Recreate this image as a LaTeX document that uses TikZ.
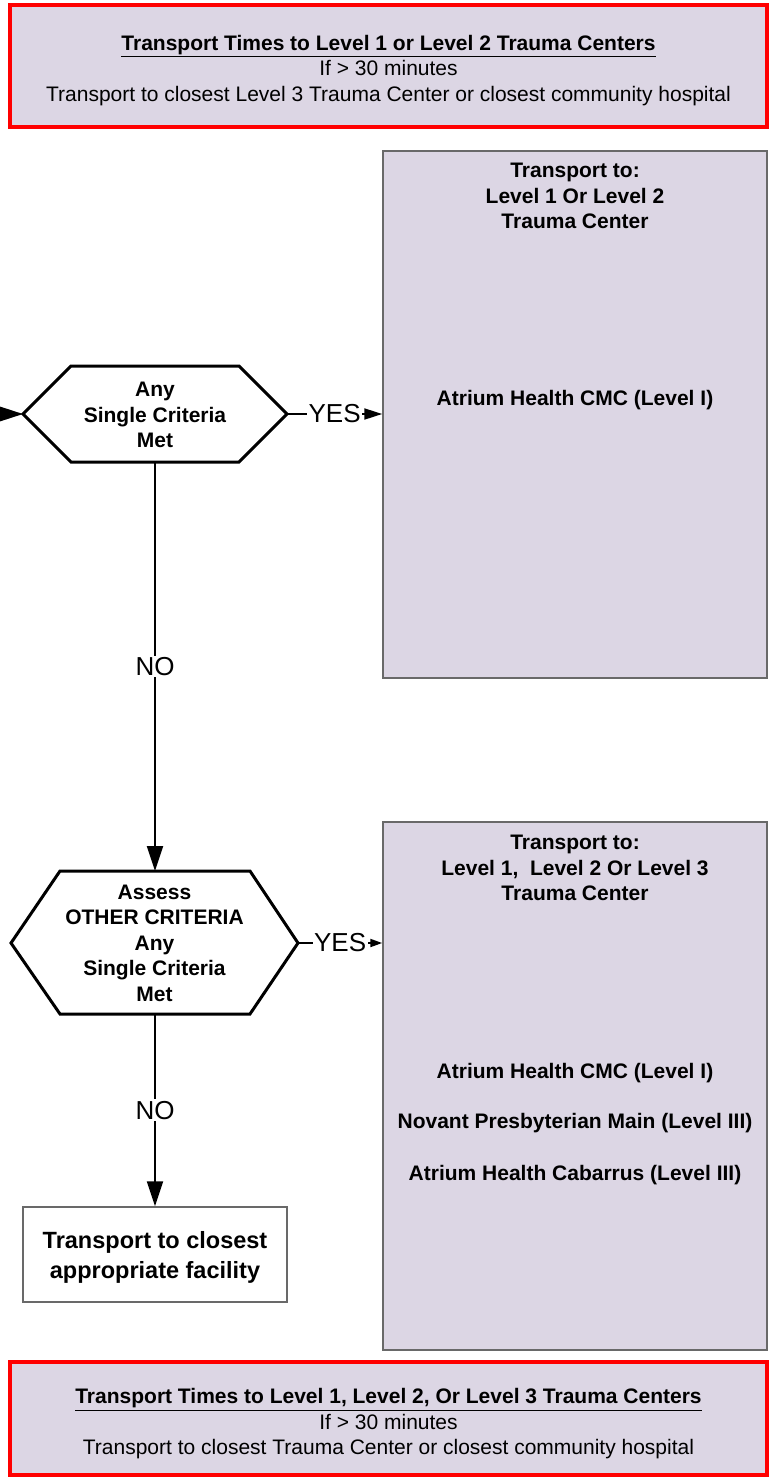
\documentclass[tikz,border=0pt]{standalone}
\usepackage{fontspec}
\setmainfont{Liberation Sans}
\usetikzlibrary{arrows.meta}
\definecolor{boxlilac}{RGB}{220,214,228}
\definecolor{boxgrey}{RGB}{105,105,105}

\begin{document}
\begin{tikzpicture}[x=1pt,y=-1pt,
  redbox/.style={draw=red, line width=3.5pt, fill=boxlilac},
  redtxt/.style={align=center, font=\fontsize{21}{25.5}\selectfont},
  destbox/.style={draw=boxgrey, line width=1.5pt, fill=boxlilac},
  hexline/.style={line width=3pt, line join=miter},
  boldtxt/.style={font=\fontsize{21}{25.5}\selectfont\bfseries, align=center},
  conn/.style={line width=2pt, -{Triangle[length=25pt,width=16pt]}},
  lbl/.style={fill=white, inner sep=1.5pt, font=\fontsize{26}{30}\selectfont}]
\useasboundingbox (0,0) rectangle (769,1480);

%%Time limits, top and bottom
\node[redbox, minimum width=757, minimum height=122] (toptimes) at (388.5,66) {};
\node[redtxt] (toptext) at (388.5,70.5)
  {\underline{\textbf{Transport Times to Level 1 or Level 2 Trauma Centers}}\\If > 30 minutes\\Transport to closest Level 3 Trauma Center or closest community hospital};
\node[redbox, minimum width=757, minimum height=113] (bottimes) at (388.5,1418.5) {};
\node[redtxt] (bottext) at (388.5,1424)
  {\underline{\textbf{Transport Times to Level 1, Level 2, Or Level 3 Trauma Centers}}\\If > 30 minutes\\Transport to closest Trauma Center or closest community hospital};

%%Destinations
\node[destbox, minimum width=384, minimum height=527] (dest1) at (575,414.5) {};
\node[boldtxt] (dest1head) at (575,196) {Transport to:\\Level 1 Or Level 2\\Trauma Center};
\node[boldtxt] (dest1cmc) at (575,400) {Atrium Health CMC (Level I)};

\node[destbox, minimum width=384, minimum height=528] (dest2) at (575,1086) {};
\node[boldtxt] (dest2head) at (575,868) {Transport to:\\Level 1,\ \ Level 2 Or Level 3\\Trauma Center};
\node[boldtxt] (dest2cmc) at (575,1073) {Atrium Health CMC (Level I)};
\node[boldtxt] (dest2novant) at (575,1123) {Novant Presbyterian Main (Level III)};
\node[boldtxt] (dest2cabarrus) at (575,1175) {Atrium Health Cabarrus (Level III)};

%%First hexagon
\coordinate (anyW) at (23,414);
\coordinate (anyE) at (287,414);
\coordinate (anyS) at (155,462);
\draw[hexline, fill=white] (anyW) -- (71,366) -- (239,366) -- (anyE) -- (239,462) -- (71,462) -- cycle;
\node[boldtxt] (anycrit) at (155,415) {Any\\Single Criteria\\Met};

%%Second hexagon
\coordinate (othW) at (11,943);
\coordinate (othE) at (298,943);
\coordinate (othN) at (155,871);
\coordinate (othS) at (155,1014);
\draw[hexline, fill=white] (othW) -- (60,871) -- (250,871) -- (othE) -- (250,1014) -- (60,1014) -- cycle;
\node[boldtxt] (othcrit) at (154.5,943) {Assess\\OTHER CRITERIA\\Any\\Single Criteria\\Met};

\node[draw=boxgrey, line width=1.5pt, minimum width=264, minimum height=95] (closest) at (155,1254.5) {};
\node[align=center, font=\fontsize{23.5}{30}\selectfont\bfseries] (closesttext) at (155,1257.5) {Transport to closest\\appropriate facility};

%%Connectors
\coordinate (entry) at (-4,414);
\draw[line width=2pt, -{Triangle[length=24pt,width=15pt]}] (entry) -- (anyW);
\draw[line width=2pt, -{Triangle[length=18pt,width=11pt]}] (anyE) -- (anyE -| dest1.west) node[lbl, midway] {YES};
\draw[line width=2pt, -{Triangle[length=12pt,width=8pt]}] (othE) -- (othE -| dest2.west) node[lbl, midway] {YES};
\draw[conn] (anyS) -- (othN) node[lbl, midway] {NO};
\draw[conn] (othS) -- (closest.north) node[lbl, midway] {NO};
\end{tikzpicture}
\end{document}
